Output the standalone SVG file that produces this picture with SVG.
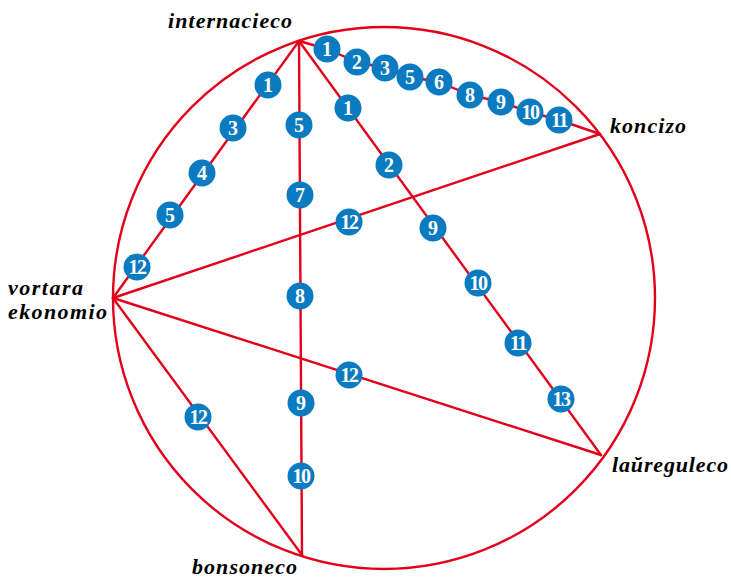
<svg xmlns="http://www.w3.org/2000/svg" width="731" height="579" viewBox="0 0 731 579">
<style>
.ln{fill:none;stroke:#e2001a;stroke-width:2.4;stroke-linejoin:round;stroke-linecap:round}
.m circle{fill:#0a7bc1}
.m text{fill:#fff;font-family:"Liberation Serif",serif;font-weight:bold;font-size:20px;text-anchor:middle}
.lbl{fill:#000;font-family:"Liberation Serif",serif;font-weight:bold;font-style:italic;font-size:22px}
</style>
<rect width="731" height="579" fill="#fff"/>
<g id="connectors">
<circle class="ln" cx="384" cy="298" r="271"/>
<line class="ln" x1="299" y1="41" x2="113" y2="298"/>
<line class="ln" x1="299" y1="41" x2="302" y2="555"/>
<line class="ln" x1="299" y1="41" x2="601" y2="455"/>
<polyline class="ln" points="299,41 327,49 357,62 385,68 410,77 439,82 470,95 501,102 530,112 559,120 600,134"/>
<line class="ln" x1="113" y1="298" x2="600" y2="134"/>
<line class="ln" x1="113" y1="298" x2="601" y2="455"/>
<line class="ln" x1="113" y1="298" x2="302" y2="555"/>
</g>
<g id="markers" class="m">
<g><circle cx="327" cy="49" r="13.5"/><text x="327" y="56">1</text></g>
<g><circle cx="357" cy="62" r="13.5"/><text x="357" y="69">2</text></g>
<g><circle cx="385" cy="68" r="13.5"/><text x="385" y="75">3</text></g>
<g><circle cx="410" cy="77" r="13.5"/><text x="410" y="84">5</text></g>
<g><circle cx="439" cy="82" r="13.5"/><text x="439" y="89">6</text></g>
<g><circle cx="470" cy="95" r="13.5"/><text x="470" y="102">8</text></g>
<g><circle cx="501" cy="102" r="13.5"/><text x="501" y="109">9</text></g>
<g><circle cx="530" cy="112" r="13.5"/><text x="530" y="119" letter-spacing="-1.5">10</text></g>
<g><circle cx="559" cy="120" r="13.5"/><text x="559" y="127" letter-spacing="-1.5">11</text></g>

<g><circle cx="268" cy="85" r="13.5"/><text x="268" y="92">1</text></g>
<g><circle cx="233" cy="128" r="13.5"/><text x="233" y="135">3</text></g>
<g><circle cx="202" cy="173" r="13.5"/><text x="202" y="180">4</text></g>
<g><circle cx="170" cy="215" r="13.5"/><text x="170" y="222">5</text></g>
<g><circle cx="137" cy="267" r="13.5"/><text x="137" y="274" letter-spacing="-1.5">12</text></g>

<g><circle cx="299" cy="125" r="13.5"/><text x="299" y="132">5</text></g>
<g><circle cx="300" cy="195" r="13.5"/><text x="300" y="202">7</text></g>
<g><circle cx="300" cy="296" r="13.5"/><text x="300" y="303">8</text></g>
<g><circle cx="301" cy="403" r="13.5"/><text x="301" y="410">9</text></g>
<g><circle cx="301" cy="476" r="13.5"/><text x="301" y="483" letter-spacing="-1.5">10</text></g>

<g><circle cx="348" cy="108" r="13.5"/><text x="348" y="115">1</text></g>
<g><circle cx="389" cy="165" r="13.5"/><text x="389" y="172">2</text></g>
<g><circle cx="433" cy="228" r="13.5"/><text x="433" y="235">9</text></g>
<g><circle cx="478" cy="283" r="13.5"/><text x="478" y="290" letter-spacing="-1.5">10</text></g>
<g><circle cx="518" cy="343" r="13.5"/><text x="518" y="350" letter-spacing="-1.5">11</text></g>
<g><circle cx="561" cy="399" r="13.5"/><text x="561" y="406" letter-spacing="-1.5">13</text></g>

<g><circle cx="349" cy="222" r="13.5"/><text x="349" y="229" letter-spacing="-1.5">12</text></g>
<g><circle cx="349" cy="375" r="13.5"/><text x="349" y="382" letter-spacing="-1.5">12</text></g>
<g><circle cx="198" cy="417" r="13.5"/><text x="198" y="424" letter-spacing="-1.5">12</text></g>
</g>
<g id="internacieco"><text class="lbl" x="168" y="28" textLength="124" lengthAdjust="spacing">internacieco</text></g>
<g id="koncizo"><text class="lbl" x="610" y="133" textLength="76" lengthAdjust="spacing">koncizo</text></g>
<g id="vortara-ekonomio"><text class="lbl" x="8" y="295" textLength="75" lengthAdjust="spacing">vortara</text><text class="lbl" x="8" y="319" textLength="99" lengthAdjust="spacing">ekonomio</text></g>
<g id="laureguleco"><text class="lbl" x="612" y="472" textLength="116" lengthAdjust="spacing">laŭreguleco</text></g>
<g id="bonsoneco"><text class="lbl" x="192" y="574" textLength="105" lengthAdjust="spacing">bonsoneco</text></g>
</svg>
